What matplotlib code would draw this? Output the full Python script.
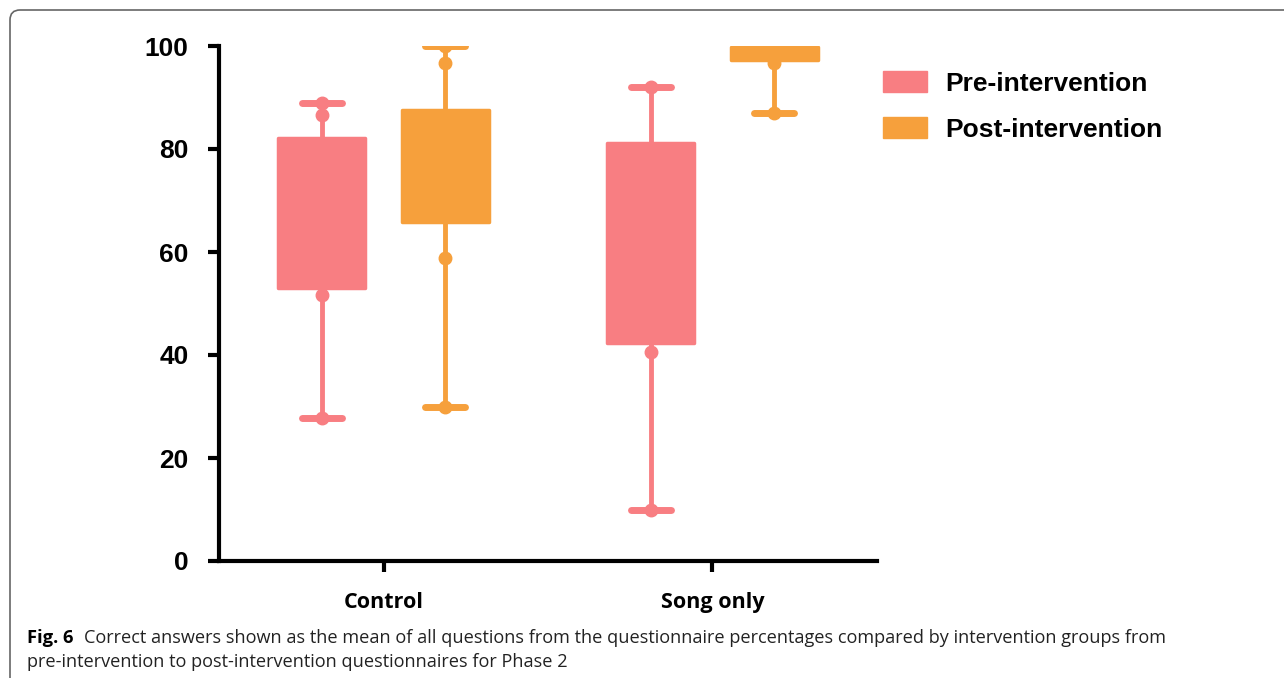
import matplotlib.pyplot as plt
from matplotlib.patches import FancyBboxPatch, Patch
from matplotlib.transforms import IdentityTransform

# values (percent correct)
groups = ['Control', 'Song only']
series = ['Pre-intervention', 'Post-intervention']
colors = ['#F87E82', '#F6A03C']

# box stats per series, one entry per group
whislo = [[27.8, 9.9], [29.9, 87.0]]
q1 = [[53.0, 42.3], [65.8, 97.2]]
med = [[68.0, 62.0], [76.0, 98.5]]
q3 = [[82.1, 81.2], [87.6, 99.8]]
whishi = [[89.0, 92.0], [100.0, 100.0]]

# points visible outside the boxes
pts = [[[89.0, 86.6, 51.6, 27.8], [92.0, 40.6, 9.9]],
       [[100.0, 96.7, 58.8, 29.9], [100.0, 96.7, 87.0]]]

fig = plt.figure(figsize=(12.84, 6.78), dpi=100)
ax = fig.add_axes([219/1284, 1 - 561/678, (877 - 219)/1284, (561 - 46)/678])

offsets = [-0.1875, 0.1875]
for s in range(2):
    stats = []
    for g in range(2):
        stats.append(dict(whislo=whislo[s][g], q1=q1[s][g], med=med[s][g],
                          q3=q3[s][g], whishi=whishi[s][g], fliers=[]))
    pos = [g + 1 + offsets[s] for g in range(2)]
    c = colors[s]
    ax.bxp(stats, positions=pos, widths=0.265, patch_artist=True, capwidths=0.122,
           boxprops=dict(facecolor=c, edgecolor=c, linewidth=2.5, joinstyle='round'),
           whiskerprops=dict(color=c, linewidth=3.5),
           capprops=dict(color=c, linewidth=5, solid_capstyle='round'),
           medianprops=dict(color=c, linewidth=0),
           showfliers=False, manage_ticks=False)
    for g in range(2):
        ax.plot([pos[g]] * len(pts[s][g]), pts[s][g], 'o', color=c, ms=9, mec=c)

ax.set_xlim(0.5, 2.5)
ax.set_ylim(0, 100)
ax.set_yticks([0, 20, 40, 60, 80, 100])
ax.set_xticks([1, 2])
ax.set_xticklabels(groups, fontfamily='Open Sans', fontweight='bold', fontsize=15.5)
for lab in ax.get_yticklabels():
    lab.set_fontfamily('Liberation Sans')
    lab.set_fontweight('bold')
    lab.set_fontsize(19)
ax.tick_params(axis='y', length=8, width=3, pad=14)
ax.tick_params(axis='x', length=8, width=3, pad=14)
for side in ['top', 'right']:
    ax.spines[side].set_visible(False)
for side in ['left', 'bottom']:
    ax.spines[side].set_linewidth(3)

handles = [Patch(facecolor=c, edgecolor=c) for c in colors]
fig.legend(handles, series, loc='upper left', bbox_to_anchor=(883/1284, 1 - 71/678),
           frameon=False, borderpad=0, borderaxespad=0, handlelength=1.67, handleheight=0.87,
           handletextpad=0.68, labelspacing=0.8,
           prop=dict(family='Liberation Sans', weight='bold', size=19))

# frame around the figure panel
frame = FancyBboxPatch((10, -50), 1400, 678 - 10 + 50, boxstyle='round,pad=0,rounding_size=10',
                       transform=IdentityTransform(), facecolor='none', edgecolor='#666666',
                       linewidth=1.2)
fig.patches.append(frame)

# caption
fig.text(27/1284, 1 - 638/678, 'Fig. 6', fontfamily='Open Sans', fontweight='bold',
         fontsize=13.2, va='center')
fig.text(84/1284, 1 - 638/678, 'Correct answers shown as the mean of all questions from the questionnaire '
         'percentages compared by intervention groups from', fontfamily='Open Sans',
         fontsize=13.1, va='center', color='#222222')
fig.text(27/1284, 1 - 662/678, 'pre-intervention to post-intervention questionnaires for Phase 2',
         fontfamily='Open Sans', fontsize=13.1, va='center', color='#222222')

fig.savefig('out.png', dpi=100)
